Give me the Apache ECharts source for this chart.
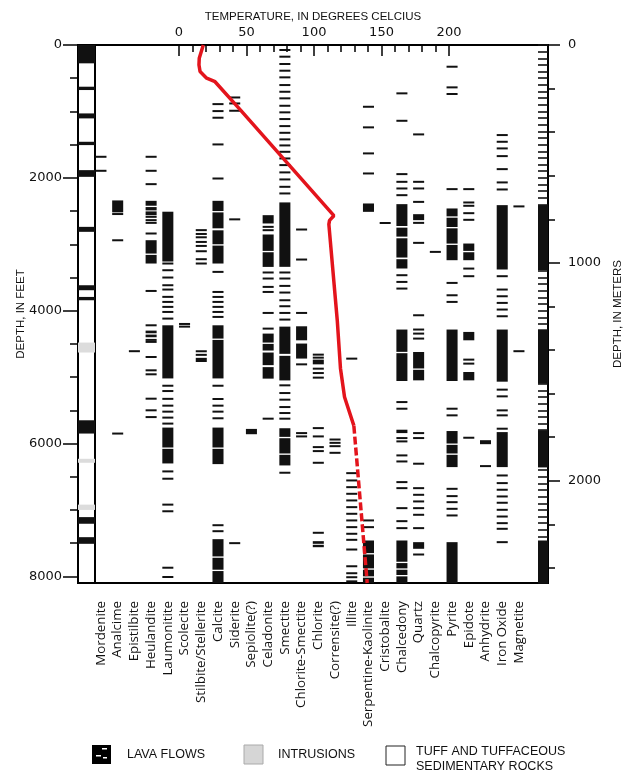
<!DOCTYPE html>
<html><head><meta charset="utf-8">
<script src="https://cdn.jsdelivr.net/npm/echarts@6/dist/echarts.min.js"></script>
<style>html,body{margin:0;padding:0;background:#fff}#c{width:640px;height:781px}</style>
</head><body><div id="c"></div>
<script>
// ---------- data (depths in feet; number = thin occurrence, [top, bottom] = interval) ----------
const minerals = ['Mordenite','Analcime','Epistilbite','Heulandite','Laumonitite','Scolecite','Stilbite/Stellerite','Calcite','Siderite','Sepiolite(?)','Celadonite','Smectite','Chlorite-Smectite','Chlorite','Corrensite(?)','Illite','Serpentine-Kaolinite','Cristobalite','Chalcedony','Quartz','Chalcopyrite','Pyrite','Epidote','Anhydrite','Iron Oxide','Magnetite'];

const mordenite = [1683, 1894];
const analcime = [[2340, 2520], 2545, 2940, 5850];
const epistilbite = [4610];
const heulandite = [1683, 1894, 2095, [2346, 2420], [2440, 2490], [2505, 2562], 2587, 2637, 2678, 2838, [2939, 3140], [3160, 3290], 3703, 4220, [4300, 4340], [4360, 4400], 4440, 4470, 4697, 4898, 4958, [5310, 5340], 5500, 5602];
const laumontite = [[2510, 3260], 3290, 3391, 3501, 3617, 3682, 3792, 3868, 3943, 4019, 4119, [4220, 5020], 5130, 5210, [5315, 5340], 5430, 5520, 5610, 5700, [5760, 6060], [6080, 6300], 6420, 6530, 6920, 7020, 7870, 8010];
const scolecite = [4200, 4240];
const stilbite = [[2775, 2800], [2830, 2860], [2885, 2905], 2965, 3025, 3105, [3215, 3235], 3290, [4597, 4625], [4650, 4680], [4710, 4773]];
const calcite = [890, 995, 1095, 1497, 2010, [2346, 2500], [2520, 2760], [2790, 3000], [3020, 3290], 3416, 3718, 3793, 3868, 3943, 4019, 4094, [4220, 4420], [4440, 5020], 5130, [5315, 5345], 5430, 5520, 5620, [5760, 6060], [6080, 6310], 7230, 7320, [7440, 7700], [7720, 7900], [7920, 8100]];
const siderite = [790, 880, 990, 2625, 7500];
const sepiolite = [[5780, 5860]];
const celadonite = [[2562, 2687], 2738, 2788, [2853, 3100], [3120, 3341], 3425, 3516, 3642, 3718, 4034, 4270, [4345, 4480], [4500, 4600], [4630, 4820], [4850, 5023], 5626];
const smectite = [75, 176, 286, 387, 487, 603, 704, 803, 915, 1014, 1115, 1221, 1322, 1421, 1512, 1608, 1708, 1808, 1918, 2024, 2135, 2235, [2370, 3340], 3425, 3516, 3627, 3727, 3843, 3933, 4034, 4134, [4240, 4650], [4680, 5050], 5124, 5240, 5340, 5451, 5541, 5626, [5770, 5900], [5920, 6150], [6170, 6330], 6440];
const chloriteSmectite = [2778, 3230, 4034, [4235, 4446], [4495, 4721], 4808, 5843, 5893];
const chlorite = [4662, 4707, [4737, 4808], 4873, 4939, 5008, 5768, 5893, 6054, 6114, 6290, 7344, [7470, 7510], [7525, 7561]];
const corrensite = [5940, 5990, 6040, 6140];
const illite = [4722, 6446, 6556, 6657, 6757, 6857, 6958, 7058, 7158, 7259, 7359, 7450, 7596, 7848, 7953, 8013, 8075];
const serpentineKaolinite = [930, 1240, 1632, 1934, [2386, 2512], 7158, 7259, [7460, 7650], [7670, 7880], [7900, 8000], [8020, 8100]];
const cristobalite = [2680];
const chalcedony = [728, 1141, 1944, 2060, 2160, 2261, [2396, 2725], [2750, 2885], [2910, 3200], [3225, 3365], 3466, 3567, 3667, [4284, 4620], [4640, 5059], 5376, 5476, [5792, 5843], 5918, 5968, 6179, 6270, 6581, 6672, 6973, 7169, 7274, [7460, 7780], [7800, 7880], [7900, 7980], [8000, 8100]];
const quartz = [1346, 2060, 2160, 2362, [2547, 2637], 2678, 2979, 4069, 4284, 4345, 4420, [4622, 4870], [4890, 5049], 5843, 5918, 6304, 6672, 6772, 6872, 6973, 7073, 7274, [7485, 7585], 7671];
const chalcopyrite = [3115];
const pyrite = [327, 638, 738, 2170, [2461, 2580], [2600, 2740], [2760, 2990], [3010, 3240], 3582, 3768, 3868, [4284, 5059], 5476, 5576, [5812, 6000], [6020, 6150], [6170, 6355], 6682, 6792, 6883, 6983, 7083, [7485, 8100]];
const epidote = [2170, 2371, 2421, 2532, 2632, [2989, 3100], [3120, 3240], 3366, 3481, [4320, 4446], 4737, 4797, [4923, 5049], 5913];
const anhydrite = [[5950, 6010], 6340];
const ironOxide = [1356, 1457, 1557, 1673, 1869, 2069, 2175, [2411, 3380], 3481, 3682, 3783, 3883, 3983, 4084, [4284, 5069], 5189, 5290, 5501, 5576, 5777, [5828, 6355], 6481, 6596, 6696, 6797, 6892, 6998, 7099, 7199, 7284, 7485];
const magnetite = [2430, 4610];

const mineralColumns = [mordenite, analcime, epistilbite, heulandite, laumontite, scolecite, stilbite, calcite, siderite, sepiolite, celadonite, smectite, chloriteSmectite, chlorite, corrensite, illite, serpentineKaolinite, cristobalite, chalcedony, quartz, chalcopyrite, pyrite, epidote, anhydrite, ironOxide, magnetite];

const rightColumn = [[2410, 3390], [4280, 5100], [5800, 6360], [7460, 8100]];

const lavaFlows = [[0, 276], [628, 678], [1030, 1105], [1457, 1507], [1884, 1985], [2738, 2813], [3617, 3692], [3793, 3843], [5650, 5850], [7108, 7208], [7410, 7510]];
const intrusions = [[4480, 4630], [6230, 6290], [6920, 7000]];

// temperature profile (deg C) vs depth (ft)
const tempDepthSolid = [0, 200, 300, 400, 500, 553, 980, 2570, 2640, 2700, 4140, 4870, 5300, 5730];
const tempSolid = [18, 15, 14.8, 15.6, 20.5, 26.7, 45.6, 114.7, 111.5, 111, 117.2, 119.6, 122.6, 129.5];
const tempDepthDashed = [5730, 8100];
const tempDashed = [129.5, 139.4];

// axis ticks / labels
const tempMajor = [0, 50, 100, 150, 200];
const tempMinor = [0, 10, 20, 30, 40, 50, 60, 70, 80, 90, 100, 110, 120, 130, 140, 150, 160, 170, 180, 190, 200];
const feetLabels = [0, 2000, 4000, 6000, 8000];
const feetMinor = [500, 1000, 1500, 2500, 3000, 3500, 4500, 5000, 5500, 6500, 7000, 7500];
const meterLabels = [0, 1000, 2000];
const meterMinor = [200, 400, 600, 800, 1200, 1400, 1600, 1800, 2200, 2400];

// ---------- chart ----------
const FT_MAX = 8100;
const M_MAX = FT_MAX * 0.3048;
const TMIN = -74.8, TMAX = 273.3;
const GT = 45, GB = 781 - 583;
const numFont = 'DejaVu Sans';
const capFont = 'Liberation Sans';
const plain = v => String(Math.round(v));

const mineralData = [];
mineralColumns.forEach((col, i) => col.forEach(v => {
  if (Array.isArray(v)) mineralData.push([i, v[0], v[1]]);
  else mineralData.push([i, v, v]);
}));
const lithData = lavaFlows.map(v => [0, v[0], v[1], 1]).concat(intrusions.map(v => [0, v[0], v[1], 2]));
const rightData = rightColumn.map(v => [0, v[0], v[1]]);

function makeRender(frac, fullWidth) {
  return function (params, api) {
    const c = api.value(0), t = api.value(1), b = api.value(2);
    const p1 = api.coord([c, t]), p2 = api.coord([c, b]);
    const band = api.size([1, 0])[0];
    const w = fullWidth ? band : band * frac;
    let y = p1[1], h = p2[1] - p1[1];
    if (h < 2) { y = (p1[1] + p2[1]) / 2 - 1; h = 2; }
    const kind = api.value(3);
    const fill = kind === 2 ? '#dcdcdc' : '#111';
    return { type: 'rect', shape: { x: p1[0] - w / 2, y: y, width: w, height: h }, style: { fill: fill } };
  };
}

const hiddenY = (g) => ({ gridIndex: g, type: 'value', inverse: true, min: 0, max: FT_MAX, show: false });
const line2 = { show: true, onZero: false, lineStyle: { color: '#000', width: 2 } };
const noLine = { show: false, onZero: false };

const option = {
  animation: false,
  backgroundColor: '#fff',
  grid: [
    { left: 78, right: 92, top: GT, bottom: GB, show: true, borderColor: '#000', borderWidth: 2, backgroundColor: 'transparent', outerBoundsMode: 'none' },
    { left: 92.6, right: 112.7, top: GT, bottom: GB, outerBoundsMode: 'none' },
    { left: 78, width: 17, top: GT, bottom: GB, show: true, borderColor: '#000', borderWidth: 2, backgroundColor: 'transparent', outerBoundsMode: 'none' },
    { left: 538, width: 10, top: GT, bottom: GB, outerBoundsMode: 'none' }
  ],
  xAxis: [
    { gridIndex: 0, type: 'value', position: 'top', min: TMIN, max: TMAX,
      axisLine: line2,
      axisTick: { show: true, inside: true, length: 11, customValues: tempMajor, lineStyle: { color: '#000', width: 1.5 } },
      axisLabel: { customValues: tempMajor, margin: 6, formatter: plain, fontFamily: numFont, fontSize: 13, color: '#111' },
      splitLine: { show: false },
      name: 'TEMPERATURE, IN DEGREES CELCIUS', nameLocation: 'middle', nameGap: 22, nameMoveOverlap: false,
      nameTextStyle: { fontFamily: capFont, fontSize: 11.5, color: '#111' } },
    { gridIndex: 0, type: 'value', position: 'top', min: TMIN, max: TMAX,
      axisLine: noLine,
      axisTick: { show: true, inside: true, length: 7, customValues: tempMinor, lineStyle: { color: '#000', width: 1.5 } },
      axisLabel: { show: false }, splitLine: { show: false } },
    { gridIndex: 1, type: 'category', data: minerals, position: 'bottom',
      axisLine: noLine, axisTick: { show: false }, splitLine: { show: false },
      axisLabel: { rotate: 90, interval: 0, margin: 18, fontFamily: 'Open Sans', fontSize: 13.3, color: '#111' } },
    { gridIndex: 2, type: 'category', data: ['lithology'], show: false },
    { gridIndex: 3, type: 'category', data: ['column'], show: false }
  ],
  yAxis: [
    { gridIndex: 0, type: 'value', inverse: true, min: 0, max: FT_MAX, position: 'left',
      axisLine: line2,
      axisTick: { show: true, length: 15, customValues: feetLabels, lineStyle: { color: '#000', width: 1.5 } },
      axisLabel: { customValues: feetLabels, margin: 16, formatter: plain, fontFamily: numFont, fontSize: 13, color: '#111' },
      splitLine: { show: false },
      name: 'DEPTH, IN FEET', nameLocation: 'middle', nameRotate: 90, nameGap: 51, nameMoveOverlap: false,
      nameTextStyle: { fontFamily: capFont, fontSize: 11.5, color: '#111' } },
    { gridIndex: 0, type: 'value', inverse: true, min: 0, max: FT_MAX, position: 'left',
      axisLine: noLine,
      axisTick: { show: true, length: 8, customValues: feetMinor, lineStyle: { color: '#000', width: 1.5 } },
      axisLabel: { show: false }, splitLine: { show: false } },
    { gridIndex: 0, type: 'value', inverse: true, min: 0, max: M_MAX, position: 'right',
      axisLine: line2,
      axisTick: { show: true, length: 12, customValues: meterLabels, lineStyle: { color: '#000', width: 1.5 } },
      axisLabel: { customValues: meterLabels, margin: 20, formatter: plain, fontFamily: numFont, fontSize: 13, color: '#111' },
      splitLine: { show: false },
      name: 'DEPTH, IN METERS', nameLocation: 'middle', nameRotate: 90, nameGap: 59,
      nameTextStyle: { fontFamily: capFont, fontSize: 11.5, color: '#111' } },
    { gridIndex: 0, type: 'value', inverse: true, min: 0, max: M_MAX, position: 'right',
      axisLine: noLine,
      axisTick: { show: true, length: 7, customValues: meterMinor, lineStyle: { color: '#000', width: 1.5 } },
      axisLabel: { show: false }, splitLine: { show: false } },
    { gridIndex: 0, type: 'value', inverse: true, min: 0, max: FT_MAX, interval: 100, position: 'right',
      axisLine: noLine,
      axisTick: { show: true, inside: true, length: 10, lineStyle: { color: '#111', width: 1.6 } },
      axisLabel: { show: false }, splitLine: { show: false } },
    hiddenY(1), hiddenY(2), hiddenY(3)
  ],
  series: [
    { type: 'custom', name: 'minerals', xAxisIndex: 2, yAxisIndex: 5, renderItem: makeRender(0.66, false), data: mineralData, z: 3 },
    { type: 'custom', name: 'lithology', xAxisIndex: 3, yAxisIndex: 6, renderItem: makeRender(1, true), data: lithData, z: 3 },
    { type: 'custom', name: 'column', xAxisIndex: 4, yAxisIndex: 7, renderItem: makeRender(1, true), data: rightData, z: 3 },
    { type: 'line', name: 'temperature', xAxisIndex: 0, yAxisIndex: 0, showSymbol: false, z: 5,
      data: tempSolid.map((t, i) => [t, tempDepthSolid[i]]),
      lineStyle: { color: '#e3141c', width: 3.5 } },
    { type: 'line', name: 'temperature (inferred)', xAxisIndex: 0, yAxisIndex: 0, showSymbol: false, z: 5,
      data: tempDashed.map((t, i) => [t, tempDepthDashed[i]]),
      lineStyle: { color: '#e3141c', width: 3.5, type: [8, 3] } }
  ],
  graphic: [
    { type: 'rect', x: 92, y: 745, shape: { width: 19, height: 19 }, style: { fill: '#000' } },
    { type: 'rect', x: 102, y: 748, shape: { width: 5, height: 1.5 }, style: { fill: '#fff' } },
    { type: 'rect', x: 96, y: 755, shape: { width: 5, height: 1.5 }, style: { fill: '#fff' } },
    { type: 'rect', x: 103, y: 757, shape: { width: 4, height: 1.5 }, style: { fill: '#fff' } },
    { type: 'text', x: 127, y: 755, style: { text: 'LAVA FLOWS', fontFamily: capFont, fontSize: 12.5, fill: '#111', verticalAlign: 'middle' } },
    { type: 'rect', x: 244, y: 745, shape: { width: 19, height: 19 }, style: { fill: '#d6d6d6', stroke: '#aaa', lineWidth: 1 } },
    { type: 'text', x: 278, y: 755, style: { text: 'INTRUSIONS', fontFamily: capFont, fontSize: 12.5, fill: '#111', verticalAlign: 'middle' } },
    { type: 'rect', x: 386, y: 746, shape: { width: 19, height: 19 }, style: { fill: '#fff', stroke: '#222', lineWidth: 1 } },
    { type: 'text', x: 416, y: 752, style: { text: 'TUFF AND TUFFACEOUS', fontFamily: capFont, fontSize: 12.5, fill: '#111', verticalAlign: 'middle' } },
    { type: 'text', x: 416, y: 767, style: { text: 'SEDIMENTARY ROCKS', fontFamily: capFont, fontSize: 12.5, fill: '#111', verticalAlign: 'middle' } }
  ]
};

const chart = echarts.init(document.getElementById('c'));
chart.setOption(option);
</script>
</body></html>
